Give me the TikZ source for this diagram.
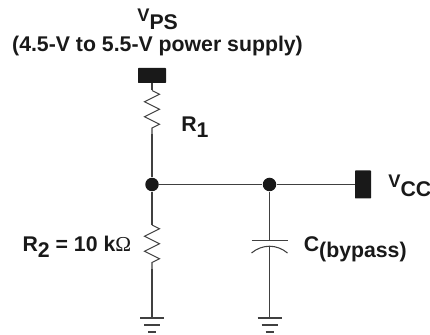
\documentclass[tikz,border=0pt]{standalone}
\usepackage{fontspec}
\setmainfont{Liberation Sans}
\newfontfamily\omegafont{Liberation Serif}
\usetikzlibrary{decorations.pathmorphing, positioning}

\newcommand{\lowsub}[2][3.1pt]{\raisebox{-#1}{#2}}
\newcommand{\smallv}{{\fontsize{10.4}{12}\selectfont V}}

\tikzset{
    wire/.style={draw=black!75, line width=0.6pt},
    dot/.style={circle, fill=black!90, inner sep=0pt, minimum size=0.27cm},
    pad/.style={rectangle, rounded corners=0.3pt, fill=black!90, inner sep=0pt},
    resistor/.style={wire, decorate, decoration={zigzag, segment length=0.3cm, amplitude=0.15cm, pre length=0cm, post length=0cm}},
    label/.style={font=\fontsize{12.1}{14}\selectfont\bfseries, text=black!90, inner sep=0pt}
}

\begin{document}
\begin{tikzpicture}[on grid]

    \useasboundingbox (0,0) rectangle (8.6,6.7);

    % Junctions and pads
    \node (j1) [dot] at (3.04,3.01) {};
    \node (j2) [dot, right=2.35cm of j1] {};
    \node (vcc) [pad, minimum width=0.32cm, minimum height=0.56cm, right=1.87cm of j2] {};
    \node (vps) [pad, minimum width=0.56cm, minimum height=0.3cm, above=2.18cm of j1] {};

    % Points along the wires
    \coordinate[below=0.3cm of vps] (r1top);
    \coordinate[below=1.17cm of vps] (r1bot);
    \coordinate[below=0.81cm of j1] (r2top);
    \coordinate[below=1.69cm of j1] (r2bot);
    \coordinate[below=1.12cm of j2] (c1);
    \coordinate[below=1.23cm of j2] (c2);
    \coordinate[below=2.67cm of j1] (g1);
    \coordinate[below=2.67cm of j2] (g2);

    % Wires
    \draw[wire] (vps) -- (r1top);
    \draw[resistor] (r1top) -- (r1bot);
    \draw[wire] (r1bot) -- (j1);
    \draw[wire] (j1) -- (j2);
    \draw[wire] (j2) -- (vcc);
    \draw[wire] (j1) -- (r2top);
    \draw[resistor] (r2top) -- (r2bot);
    \draw[wire] (r2bot) -- (g1);

    % Capacitor
    \draw[wire] (j2) -- (c1);
    \draw[wire] (c1) ++(-0.36,0) -- ++(0.72,0);
    \draw[wire] (c2) ++(-0.36,-0.14) to[bend left=40] ++(0.72,0);
    \draw[wire] (c2) -- (g2);

    % Grounds
    \foreach \gnd in {g1, g2} {
        \draw[wire] (\gnd) ++(-0.24,0) -- ++(0.48,0);
        \draw[wire] (\gnd) ++(-0.16,-0.14) -- ++(0.32,0);
        \draw[wire] (\gnd) ++(-0.08,-0.28) -- ++(0.16,0);
    }

    % Labels
    \node (vpslabel) [label, anchor=base west] at (2.74,6.26) {\smallv\lowsub[4pt]{PS}};
    \node (vpsnote) [label, anchor=base] at (3.15,5.66) {(4.5-V to 5.5-V power supply)};
    \node (r1label) [label, anchor=base west] at (3.62,4.06) {R\lowsub{1}};
    \node (r2label) [label, anchor=base east] at (2.63,1.66) {R\lowsub{2} = 10 k{\omegafont\mdseries Ω}};
    \node (clabel) [label, anchor=base west] at (6.07,1.66) {C\lowsub{(bypass)}};
    \node (vcclabel) [label, anchor=base west] at (7.76,2.94) {\smallv\lowsub[5pt]{CC}};

\end{tikzpicture}
\end{document}
